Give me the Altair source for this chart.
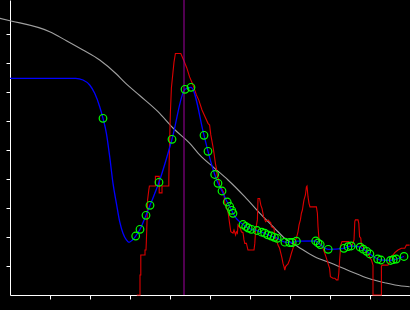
import altair as alt
import pandas as pd

# grey reference curve
grey_x = [-0.2575, 0, 0.9925, 1.41, 1.825, 2.2425, 2.66, 2.8675, 3.2425, 3.70, 4.075, 4.535,
          4.7425, 5.1175, 5.45, 5.8675, 6.285, 6.6175, 6.8675, 7.20, 7.6175, 8.035, 8.535,
          8.95, 9.3675, 9.785, 9.9925]
grey_y = [9.541, 9.459, 9.079, 8.769, 8.448, 8.103, 7.621, 7.334, 6.879, 6.321, 5.759, 5.172,
          4.828, 4.369, 3.966, 3.390, 2.759, 2.300, 1.955, 1.666, 1.321, 1.093, 0.803,
          0.576, 0.424, 0.310, 0.286]

# green sample points
green_x = [2.325, 3.1425, 3.25, 3.40, 3.50, 3.725, 4.05, 4.375, 4.525, 4.85, 4.95, 5.1175, 5.20,
           5.30, 5.43, 5.4925, 5.5425, 5.575, 5.825, 5.8925, 5.955, 6.035, 6.175, 6.2925, 6.3675,
           6.4425, 6.53, 6.61, 6.68, 6.8725, 6.9925, 7.055, 7.16, 7.6425, 7.70, 7.755, 7.955,
           8.3475, 8.45, 8.53, 8.755, 8.83, 8.9175, 8.9975, 9.1925, 9.2725, 9.5125, 9.58, 9.655, 9.85]
green_y = [6.093, 2.034, 2.266, 2.748, 3.093, 3.886, 5.369, 7.093, 7.162, 5.507, 4.955, 4.155, 3.852,
           3.586, 3.207, 3.052, 2.921, 2.817, 2.431, 2.362, 2.310, 2.266, 2.224, 2.166, 2.131,
           2.076, 2.034, 1.990, 1.955, 1.821, 1.810, 1.810, 1.855, 1.862, 1.793, 1.741, 1.576,
           1.610, 1.666, 1.690, 1.648, 1.579, 1.507, 1.414, 1.241, 1.207, 1.190, 1.217, 1.241, 1.328]

# leading part of blue fitted curve (before the green points)
blue_lead_x = [0, 1.6425, 1.825, 1.9925, 2.1175, 2.2425, 2.41, 2.4925, 2.575, 2.66, 2.7425,
               2.825, 2.91, 2.975, 3.06]
blue_lead_y = [7.472, 7.472, 7.414, 7.241, 6.955, 6.493, 5.576, 4.769, 3.852, 3.162, 2.528,
               2.128, 1.897, 1.817, 1.897]

# red raw signal
red_x = [3.17, 3.25, 3.25, 3.27, 3.27, 3.375, 3.375, 3.40, 3.41, 3.425,
         3.44, 3.47, 3.485, 3.635, 3.635, 3.73, 3.73, 3.80, 3.80, 3.97,
         3.97, 3.99, 4.01, 4.035, 4.075, 4.10, 4.135, 4.27, 4.35, 4.42,
         4.49, 4.575, 4.66, 4.72, 4.80, 4.95, 4.99, 5.02, 5.075, 5.10,
         5.135, 5.16, 5.185, 5.22, 5.24, 5.285, 5.35, 5.37, 5.41, 5.45,
         5.49, 5.52, 5.575, 5.60, 5.64, 5.66, 5.685, 5.70, 5.76, 5.785,
         5.825, 5.85, 5.87, 5.91, 5.95, 6.10, 6.12, 6.14, 6.185, 6.20,
         6.24, 6.27, 6.30, 6.34, 6.39, 6.45, 6.52, 6.535, 6.60, 6.62,
         6.66, 6.70, 6.74, 6.77, 6.80, 6.825, 6.85, 6.87, 6.89, 6.92,
         6.95, 6.99, 7.035, 7.075, 7.12, 7.16, 7.20, 7.225, 7.26, 7.285,
         7.31, 7.335, 7.35, 7.385, 7.41, 7.425, 7.45, 7.475, 7.50, 7.66,
         7.685, 7.70, 7.72, 7.74, 7.785, 7.825, 7.87, 7.91, 7.95, 7.99,
         8.01, 8.075, 8.12, 8.16, 8.20, 8.22, 8.24, 8.27, 8.30, 8.47,
         8.52, 8.55, 8.575, 8.60, 8.62, 8.635, 8.70, 8.72, 8.74, 8.77,
         8.785, 8.825, 8.87, 8.91, 8.95, 8.99, 9.035, 9.075, 9.075, 9.285,
         9.285, 9.30, 9.45, 9.49, 9.52, 9.575, 9.62, 9.70, 9.785, 9.87,
         9.91, 9.99]
red_y = [0, 0, 0.69, 0.69, 1.38, 1.38, 1.55, 1.55, 1.90, 2.52,
         3.28, 3.62, 3.76, 3.76, 4.09, 4.09, 3.52, 3.52, 3.76, 3.76,
         3.97, 5.28, 6.31, 7.14, 7.69, 8.03, 8.33, 8.33, 8.07, 7.83,
         7.52, 7.24, 6.90, 6.72, 6.38, 5.92, 5.86, 5.52, 5.11, 4.89,
         4.54, 4.37, 4.08, 3.97, 3.79, 3.68, 3.51, 3.16, 3.04, 2.87,
         2.47, 2.18, 2.13, 2.24, 2.07, 2.18, 2.13, 2.41, 2.30, 2.18,
         2.15, 1.90, 1.78, 1.78, 1.55, 1.55, 1.78, 2.24, 2.59, 3.33,
         3.33, 3.10, 2.99, 2.70, 2.53, 2.59, 2.49, 2.36, 2.30, 2.01,
         1.90, 1.72, 1.61, 1.44, 1.27, 1.09, 0.98, 0.86, 0.98, 1.03,
         1.07, 1.21, 1.44, 1.61, 1.84, 1.96, 2.18, 2.41, 2.59, 2.82,
         2.93, 3.16, 3.28, 3.45, 3.73, 3.76, 3.39, 3.16, 3.04, 3.04,
         2.82, 2.36, 2.01, 1.78, 1.72, 1.61, 1.44, 1.27, 1.09, 0.92,
         0.63, 0.58, 0.58, 0.52, 0.52, 0.75, 1.21, 1.72, 1.84, 1.84,
         1.69, 1.72, 1.78, 1.90, 2.53, 2.59, 2.59, 2.47, 2.01, 1.96,
         1.72, 1.67, 1.55, 1.49, 1.44, 1.32, 1.21, 1.03, 0, 0,
         0.98, 1.03, 1.03, 1.15, 1.32, 1.38, 1.46, 1.55, 1.61, 1.61,
         1.72, 1.72]

marker_x = [4.35]
x_ticks = [1, 2, 3, 4, 5, 6, 7, 8, 9]
y_ticks = [1, 2, 3, 4, 5, 6, 7, 8, 9]
x_domain = [0, 10]
y_domain = [0, 295 / 29]

grey_df = pd.DataFrame({"x": grey_x, "y": grey_y})
green_df = pd.DataFrame({"x": green_x, "y": green_y})
blue_df = pd.DataFrame({"x": blue_lead_x + green_x, "y": blue_lead_y + green_y}).sort_values("x")
red_df = pd.DataFrame({"x": red_x, "y": red_y, "i": list(range(len(red_x)))})
marker_df = pd.DataFrame({"x": marker_x})

xs = alt.Scale(domain=x_domain, nice=False, zero=False)
ys = alt.Scale(domain=y_domain, nice=False, zero=False)
xax = alt.Axis(values=x_ticks, labels=False, grid=False, domainColor="white", tickColor="white",
               tickSize=4, domainWidth=1, tickWidth=1, title=None)
yax = alt.Axis(values=y_ticks, labels=False, grid=False, domainColor="white", tickColor="white",
               tickSize=4, domainWidth=1, tickWidth=1, title=None)

X = alt.X("x:Q", scale=xs, axis=xax)
Y = alt.Y("y:Q", scale=ys, axis=yax)

grey = alt.Chart(grey_df).mark_line(color="#a0a0a0", strokeWidth=1.1, interpolate="monotone").encode(x=X, y=Y)
red = alt.Chart(red_df).mark_line(color="#dd0000", strokeWidth=1.1).encode(x=X, y=Y, order="i:Q")
blue = alt.Chart(blue_df).mark_line(color="#0000ff", strokeWidth=1.3, interpolate="monotone").encode(x=X, y=Y)
marker = alt.Chart(marker_df).mark_rule(color="#a000a0", strokeWidth=1).encode(x=alt.X("x:Q", scale=xs))
pts = alt.Chart(green_df).mark_point(shape="circle", filled=False, color="#00ff00", size=58,
                                     strokeWidth=1.2, opacity=1).encode(x=X, y=Y)

chart = alt.layer(grey, red, blue, marker, pts).properties(
    width=400, height=295, background="black",
    padding={"left": 10, "top": 0, "right": 0, "bottom": 15},
    autosize=alt.AutoSizeParams(type="none"),
).configure_view(stroke=None)

chart.save("out.html", embed_options={"renderer": "svg", "actions": False})
